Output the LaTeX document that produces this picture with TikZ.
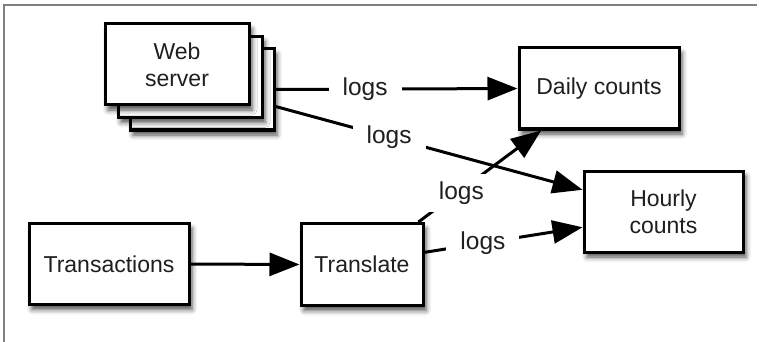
\documentclass[tikz,border=0pt]{standalone}
\usepackage{fontspec}
\setmainfont{Liberation Sans}
\usetikzlibrary{arrows.meta,shadows.blur}
\begin{document}
\begin{tikzpicture}[x=1pt,y=-1pt,
  box/.style={draw=black, line width=3pt, fill=white, rectangle,
    align=center, inner sep=0pt, text=black!88,
    font=\fontsize{23}{27}\selectfont,
    blur shadow={shadow xshift=3pt, shadow yshift=-5pt,
      shadow blur radius=5pt, shadow opacity=70}},
  flow/.style={line width=3pt, -{Triangle[length=30pt,width=23pt]}},
  lbl/.style={fill=white, inner xsep=14pt, inner ysep=8pt, pos=0.37,
    text=black!88, font=\fontsize{24.5}{28}\selectfont}]
  \useasboundingbox (0,0) rectangle (765,342);
  % frame
  \draw[line width=1.3pt, black!50] (4,342) -- (4,5) -- (757,5);

  % stacked web servers, back to front
  \node[box, minimum width=144pt, minimum height=81pt] (web3) at (202,89.5) {};
  \node[box, minimum width=144pt, minimum height=81pt] (web2) at (190,77) {};
  \node[box, minimum width=144pt, minimum height=81pt] (web1) at (177,64.5) {Web\\server};

  \node[box, minimum width=160pt, minimum height=81pt] (daily) at (599,88.5) {Daily counts};
  \node[box, minimum width=159pt, minimum height=81pt] (hourly) at (663.5,211.5) {Hourly\\counts};
  \node[box, minimum width=160pt, minimum height=81pt] (trans) at (109,264) {Transactions};
  \node[box, minimum width=122pt, minimum height=82pt] (translate) at (362,264.5) {Translate};

  % connectors
  \draw[flow] (web3.east) -- node[lbl] {logs} (daily.west);
  \draw[flow] (web3.-13.7) -- node[lbl] {logs} (hourly.165);
  \draw[flow] (translate.37) -- node[lbl, pos=0.35, yshift=-3pt] {logs} (daily.216);
  \draw[flow] (translate.11) -- node[lbl] {logs} (hourly.191);
  \draw[flow] (trans.east) -- (translate.west);
\end{tikzpicture}
\end{document}
